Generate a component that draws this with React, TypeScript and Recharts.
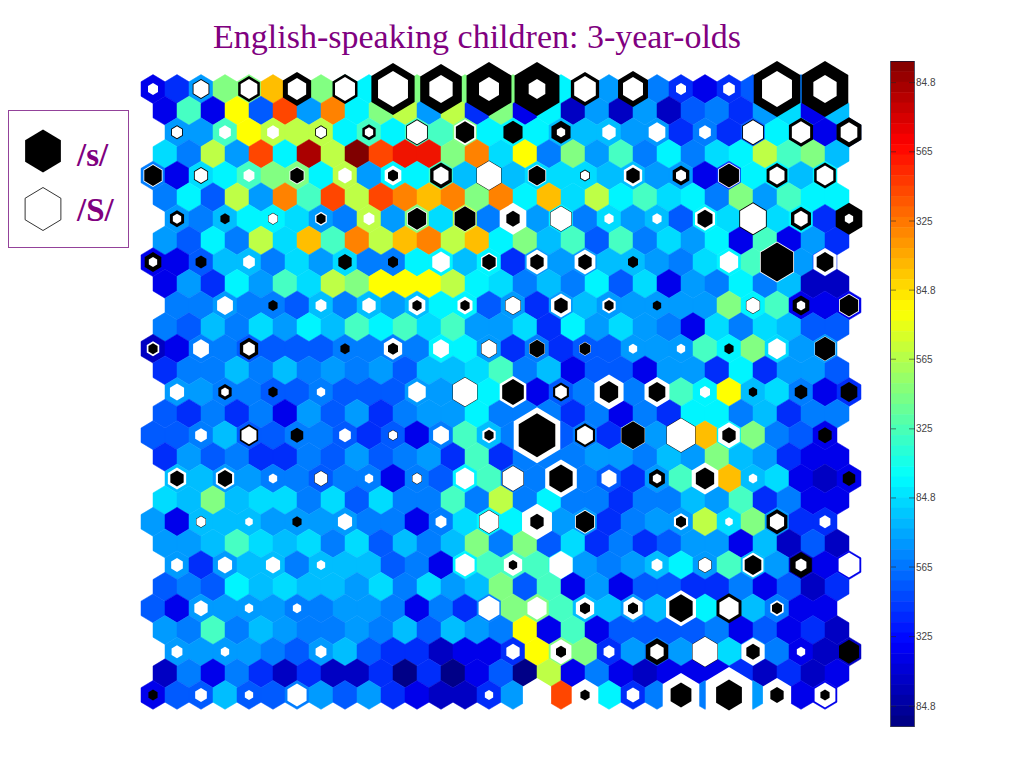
import React from "react";
import { ScatterChart, Scatter, XAxis, YAxis } from "recharts";

// Colour level of each map unit, 0 (navy) to 19 (dark red), one list per lattice row
const level00 = [2,3,6,11,11,14,12,11,10,9,11,11,11,11,11,11,11,9,8,6,5,5,3,2,3,4,5,5,5];
const level01 = [2,10,2,13,4,16,6,15,9,11,12,6,12,3,11,2,9,1,6,1,6,1,4,5,3,6,8,2,7];
const level02 = [6,6,10,13,12,12,12,9,10,9,10,10,11,9,9,9,7,7,7,6,6,3,5,3,4,9,7,2,4];
const level03 = [8,5,12,6,16,9,18,12,19,16,17,17,11,15,8,13,5,11,6,10,5,9,5,8,9,12,10,11,7];
const level04 = [5,2,8,9,10,11,11,9,12,6,9,9,10,7,8,7,8,8,8,7,7,6,6,2,3,9,9,7,9];
const level05 = [5,9,4,12,6,15,10,16,12,16,15,14,15,11,15,9,14,8,12,9,10,8,9,5,11,6,10,9,9];
const level06 = [6,5,7,9,9,8,6,5,12,6,11,8,12,5,9,6,9,5,8,6,7,4,9,8,9,8,9,3,4];
const level07 = [6,4,9,5,12,8,14,10,15,12,14,15,12,14,9,11,7,10,4,10,5,8,6,9,2,10,2,6,3];
const level08 = [2,2,4,7,7,5,8,6,8,5,5,9,9,7,9,3,6,6,6,7,7,6,5,8,9,10,6,6,3];
const level09 = [2,6,3,9,6,10,8,12,11,13,13,13,12,9,8,5,7,5,9,4,8,2,6,5,9,5,7,1,1];
const level10 = [5,5,6,5,5,4,7,5,7,6,7,9,9,4,6,3,6,7,6,6,6,6,6,11,9,10,2,2,2];
const level11 = [5,4,7,5,8,6,9,7,10,9,10,8,10,6,6,8,3,9,6,8,6,5,2,8,5,8,7,4,4];
const level12 = [1,2,5,5,4,4,4,4,5,5,5,5,9,9,6,3,5,3,4,4,6,6,6,10,9,11,8,6,6];
const level13 = [3,5,5,7,5,7,5,6,5,6,4,7,7,8,10,5,7,2,4,4,2,6,6,3,9,3,6,6,4];
const level14 = [6,6,5,5,4,4,5,4,4,4,6,6,7,9,6,2,4,5,5,5,6,10,9,13,7,8,5,2,3];
const level15 = [4,3,5,3,5,2,6,4,6,3,5,6,6,9,5,5,5,3,5,2,5,3,9,9,5,7,3,5,5];
const level16 = [4,4,5,7,4,4,5,5,4,3,4,2,5,10,7,5,5,4,5,3,6,6,9,14,9,11,5,4,2];
const level17 = [3,6,4,5,3,3,5,4,6,4,5,6,3,10,3,5,5,5,6,6,5,7,6,11,7,6,3,2,2];
const level18 = [7,7,6,6,5,5,4,5,5,2,5,4,9,10,5,5,7,5,4,3,6,10,8,14,7,8,2,1,2];
const level19 = [8,7,11,7,8,8,5,8,4,8,5,5,10,5,12,5,9,5,5,3,5,5,7,6,10,3,5,2,2];
const level20 = [6,2,7,7,7,6,6,6,6,5,5,2,5,8,9,9,9,6,6,3,5,6,6,12,8,11,6,3,3];
const level21 = [6,6,7,10,8,7,8,5,8,4,7,5,7,11,5,11,4,8,3,5,3,4,6,6,2,7,1,4,1];
const level22 = [6,3,6,7,7,5,7,7,7,4,5,2,9,10,10,10,9,6,5,6,7,9,6,10,7,6,1,2,2];
const level23 = [4,5,4,9,7,8,7,7,6,8,5,8,6,7,11,4,10,2,6,2,4,4,3,3,5,2,4,1,3];
const level24 = [4,2,6,6,6,6,5,5,6,6,5,2,5,3,5,11,11,10,7,7,6,7,6,9,6,7,5,2,2];
const level25 = [6,5,10,5,7,6,5,5,6,5,7,4,7,6,5,13,2,10,2,4,4,4,4,5,2,4,2,3,1];
const level26 = [6,6,6,6,5,4,6,7,4,3,3,1,2,2,3,13,11,11,3,6,5,6,5,8,6,5,2,1,1];
const level27 = [1,5,2,5,3,1,3,1,1,3,0,3,0,2,4,0,12,2,5,2,1,2,2,2,3,1,3,1,2];
const level28 = [2,4,4,7,4,4,5,6,4,6,3,2,1,1,3,6,5,16,5,9,3,5,5,5,6,6,6,2,2];
const LEVEL_ROWS = [level00,level01,level02,level03,level04,level05,level06,level07,level08,level09,level10,level11,level12,level13,level14,level15,level16,level17,level18,level19,level20,level21,level22,level23,level24,level25,level26,level27,level28];

// Hit marker magnitude per even lattice row, every second unit: /s/ (black)
const sHits00 = [0,10,13,17,15,26,25,27,27,17,18,0,0,28,28];
const sHits02 = [7,0,0,7,8,13,11,11.5,11.5,0,0,0,13,14.5,15];
const sHits04 = [10.5,8.5,0,8,0,6,13,15,10,6,8,10,12,12.5,13];
const sHits06 = [8.5,5.5,6,5.5,0,11,12.5,8,13,0,0,9,16.5,12,16];
const sHits08 = [10,6.5,0,0,8,6,0,8,8,8,6,0,0,19.5,10];
const sHits10 = [0,0,5.5,0,0,5.5,5.5,9.5,8,5.5,5,0,8.5,10,11];
const sHits12 = [5.5,0,11,0,5.5,6,0,9.5,9,6.5,0,0,5.5,0,12];
const sHits14 = [0,8,5.5,0,0,0,15,13,9.5,11,10,0,5,7.5,10];
const sHits16 = [0,0,11,7.5,0,5.5,0,5.5,22,12,14,17.5,8,0,8];
const sHits18 = [8,8.5,0,8,0,6,0,13,14,0,9.5,11,0,0,7.5];
const sHits20 = [0,6,0,5.5,0,0,0,12,8,11,0,6,0,12.5,0];
const sHits22 = [0,0,0,0,0,0,0,5,0,0,0,8,10,13,0];
const sHits24 = [0,0,0,0,0,0,0,0,0,6,6,14,15,6,0];
const sHits26 = [0,0,0,0,0,0,0,0,6,0,13.5,15.5,8,0,12];
const sHits28 = [5.5,0,0,0,0,0,0,0,0,5.5,0,12.5,15.5,8,5.5];
const S_ROWS = [sHits00,sHits02,sHits04,sHits06,sHits08,sHits10,sHits12,sHits14,sHits16,sHits18,sHits20,sHits22,sHits24,sHits26,sHits28];

// Hit marker magnitude: /S/ (white)
const shHits00 = [6,9,10,11,12,18,14,12,10,13,12,6,7,18,14];
const shHits02 = [6,7,7,6,5,12,13,0,5,8,10,7,12,11,10];
const shHits04 = [11.5,7.5,6.5,9,8,10,9,14.5,11,5,11,6,13,9,10];
const shHits06 = [5,0,5.5,7,6.5,12,13,16,12.5,5.5,5.5,12,15.5,8,5];
const shHits08 = [5,0,7,0,0,0,10.5,9.5,12.5,12.5,0,0,11,20.5,14];
const shHits10 = [0,9.5,0,6.5,8,10,9,9,12,8,0,0,8,5,12];
const shHits12 = [7.5,9.5,7,0,0,11,9.5,9,9.5,7,5,5,0,10.5,12.5];
const shHits14 = [8.5,4.5,0,5,0,10.5,14.5,16,7,17.5,15,6,0,0,0];
const shHits16 = [0,7,9,0,7,5,9.5,8,28,9.5,14.5,17,13,0,0];
const shHits18 = [11,11,5,7.5,5,5.5,11,12.5,19,9,5,16,5,0,0];
const shHits20 = [0,5.5,4.5,0,8.5,0,6.5,11.5,18,12,0,8.5,4.5,8.5,6.5];
const shHits22 = [7,8.5,8.5,5,0,0,11.5,11,14,0,6.5,7.5,12.5,6.5,12.5];
const shHits24 = [0,8,5,5,0,0,0,12.5,11.5,11,11.5,18,11.5,8,0];
const shHits26 = [6.5,5,0,6.5,0,0,0,8,12.5,6.5,8,15,14,5,0];
const shHits28 = [0,7,5,11.5,0,0,0,5,17,16,7.5,22,28,17,12.5];
const SH_ROWS = [shHits00,shHits02,shHits04,shHits06,shHits08,shHits10,shHits12,shHits14,shHits16,shHits18,shHits20,shHits22,shHits24,shHits26,shHits28];

const LEVEL_COLORS = [
  "rgb(0,0,135)","rgb(0,0,195)","rgb(0,0,235)","rgb(0,45,250)","rgb(0,90,255)",
  "rgb(0,125,255)","rgb(0,155,255)","rgb(0,190,255)","rgb(0,220,255)","rgb(0,245,255)",
  "rgb(70,255,195)","rgb(130,255,130)","rgb(190,255,70)","rgb(255,255,0)","rgb(255,190,0)",
  "rgb(255,130,0)","rgb(255,70,0)","rgb(240,20,0)","rgb(170,0,0)","rgb(128,0,0)",
];

const COLORBAR_LABELS = ["84.8","565","325","84.8","565","325","84.8","565","325","84.8"];
const COLORBAR_TICKS = [2.08,8.74,15.4,22.05,28.7,35.4,42.05,48.7,55.4,62.1];

const ROW_SHIFT = [0, 0.5, 1, 0.5];
const cells = LEVEL_ROWS.flatMap((levels, r) =>
  levels.map((level, c) => ({ x: c + ROW_SHIFT[r % 4], y: r, level }))
);
const markers = S_ROWS.flatMap((sRow, R) =>
  sRow.map((s, C) => ({ x: 2 * C + ROW_SHIFT[(2 * R) % 4], y: 2 * R, s, sh: SH_ROWS[R][C] }))
).filter((m) => m.s > 0 || m.sh > 0);

function hexPoints(cx: number, cy: number, h: number) {
  const w = h * 0.8315;
  return [[0,-h],[w,-h/2],[w,h/2],[0,h],[-w,h/2],[-w,-h/2]]
    .map(([a, b]) => `${cx + a},${cy + b}`).join(" ");
}

const CellHex = (p: any) => {
  const fill = LEVEL_COLORS[p.payload.level];
  return <polygon points={hexPoints(p.cx, p.cy, 14.43)} fill={fill} stroke={fill} strokeWidth={0.5} />;
};

const MarkerHex = (p: any) => {
  const { s, sh } = p.payload;
  const layers = [{ h: s, fill: "#000" }, { h: sh, fill: "#fff" }]
    .filter((l) => l.h > 0).sort((a, b) => b.h - a.h);
  return (
    <g>
      {layers.map((l, i) => (
        <polygon key={i} points={hexPoints(p.cx, p.cy, l.h)} fill={l.fill} />
      ))}
    </g>
  );
};

// MATLAB-style jet map for the colour bar swatches, top band first
function jet(i: number) {
  const t = (i + 0.5) / 64;
  const f = (v: number) => Math.round(255 * Math.max(0, Math.min(1, v)));
  return `rgb(${f(1.5 - Math.abs(4 * t - 3))},${f(1.5 - Math.abs(4 * t - 2))},${f(1.5 - Math.abs(4 * t - 1))})`;
}
const bands = Array.from({ length: 64 }, (_, i) => ({ x: 0.5, y: i + 0.5, color: jet(63 - i) }));

const BandRect = (p: any) => (
  <rect x={p.cx - 11.5} y={p.cy - 5.2} width={23} height={10.9} fill={p.payload.color} />
);

const ColorbarTick = (p: any) => {
  const label = COLORBAR_LABELS[COLORBAR_TICKS.indexOf(p.payload.value)];
  const barRight = 44;
  return (
    <g>
      <line x1={barRight - 23} x2={barRight - 18} y1={p.y} y2={p.y} stroke="#222" strokeWidth={1} opacity={0.55} />
      <line x1={barRight - 5} x2={barRight + 1} y1={p.y} y2={p.y} stroke="#222" strokeWidth={1} opacity={0.55} />
      <text x={barRight + 2} y={p.y + 3.5} fontFamily="Liberation Sans" fontSize={10} fill="#444">{label}</text>
    </g>
  );
};

const purple = "#800080";

export default function App() {
  return (
    <div style={{ position: "absolute", left: 0, top: 0, width: 1024, height: 768, overflow: "hidden", background: "#fff" }}>
      <div style={{ position: "absolute", left: 0, top: 0 }}>
        <ScatterChart width={1024} height={768} margin={{ top: 0, right: 0, bottom: 0, left: 0 }}>
          <XAxis type="number" dataKey="x" hide domain={[-153 / 24, (1024 - 153) / 24]} />
          <YAxis type="number" dataKey="y" hide reversed domain={[-89 / 21.64, (768 - 89) / 21.64]} />
          <Scatter data={cells} shape={CellHex} isAnimationActive={false} />
          <Scatter data={markers} shape={MarkerHex} isAnimationActive={false} />
        </ScatterChart>
      </div>

      <div style={{ position: "absolute", left: 870, top: 50 }}>
        <ScatterChart width={100} height={690} margin={{ top: 11, right: 20, bottom: 14, left: 21 }}>
          <XAxis type="number" dataKey="x" hide domain={[0, 1]} />
          <YAxis type="number" dataKey="y" orientation="right" reversed width={36} domain={[0, 64]}
            ticks={COLORBAR_TICKS} interval={0} axisLine={false} tickLine={false} tick={ColorbarTick} />
          <Scatter data={bands} shape={BandRect} isAnimationActive={false} />
        </ScatterChart>
      </div>
      <div style={{ position: "absolute", left: 890, top: 61, width: 23, height: 664, border: "1px solid rgba(20,20,50,0.75)" }} />

      <div style={{ position: "absolute", left: 213, top: 18, whiteSpace: "nowrap", color: purple,
        fontFamily: "Liberation Serif", fontSize: 34, lineHeight: "38px" }}>
        English-speaking children: 3-year-olds
      </div>

      <div style={{ position: "absolute", left: 8, top: 110, width: 119, height: 136, border: `1px solid #93429a` }} />
      <svg style={{ position: "absolute", left: 0, top: 100 }} width={140} height={160}>
        <polygon points={hexPoints(43, 51, 21.5)} fill="#000" />
        <polygon points={hexPoints(43, 109, 21.5)} fill="#fff" stroke="#000" strokeWidth={0.8} />
      </svg>
      <div style={{ position: "absolute", left: 77, top: 136, color: purple, fontFamily: "Liberation Serif", fontWeight: "bold", fontSize: 33, lineHeight: "38px" }}>/s/</div>
      <div style={{ position: "absolute", left: 77, top: 191, color: purple, fontFamily: "Liberation Serif", fontWeight: "bold", fontSize: 33, lineHeight: "38px" }}>/S/</div>
    </div>
  );
}
